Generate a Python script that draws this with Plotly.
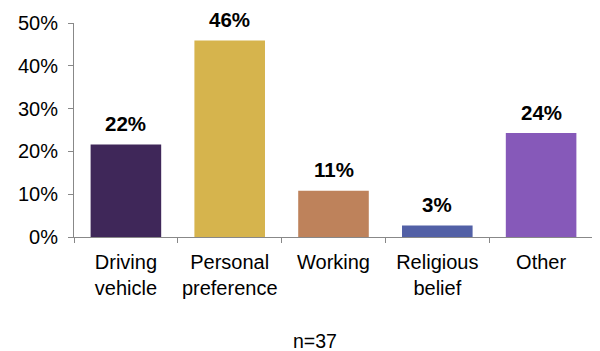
import plotly.graph_objects as go

categories = ["Driving<br>vehicle", "Personal<br>preference", "Working", "Religious<br>belief", "Other"]
values = [0.216, 0.459, 0.108, 0.027, 0.243]
labels = ["22%", "46%", "11%", "3%", "24%"]
colors = ["#3f2759", "#d6b44d", "#be825b", "#5260a6", "#8659b9"]
yticks = [0, 0.1, 0.2, 0.3, 0.4, 0.5]
ytick_labels = ["0%", "10%", "20%", "30%", "40%", "50%"]
note = "n=37"

font = "Liberation Sans, Arial, sans-serif"

fig = go.Figure(go.Bar(
    x=categories, y=values, marker=dict(color=colors, line=dict(width=0)),
    width=0.68, cliponaxis=False,
))

for c, v, t in zip(categories, values, labels):
    fig.add_annotation(
        x=c, y=v, text=t, showarrow=False, yanchor="middle", yshift=21,
        font=dict(family=font, size=20.5, color="#000000", weight="bold"),
    )

# page body has an 8px default margin, so the figure is offset by (8, 8)
fig.update_layout(
    width=593, height=343,
    margin=dict(l=66, r=8, t=15, b=114),
    plot_bgcolor="white", paper_bgcolor="white",
    showlegend=False,
    font=dict(family=font, size=20, color="#000000"),
)
fig.update_yaxes(
    range=[0, 0.5], tickvals=yticks, ticktext=ytick_labels,
    showgrid=False, showline=True, linecolor="#888888", linewidth=1,
    ticks="outside", ticklen=5, tickcolor="#888888",
    tickfont=dict(family=font, size=20), ticklabelstandoff=6,
    zeroline=False, automargin=False,
)
fig.update_xaxes(
    showgrid=False, showline=True, linecolor="#888888", linewidth=1,
    ticks="outside", ticklen=5, tickcolor="#888888", tickson="boundaries",
    tickfont=dict(family=font, size=20), ticklabelstandoff=7, tickangle=0,
    automargin=False,
)
fig.add_annotation(
    text=note, x=0.464, xref="paper", y=-0.488, yref="paper",
    xanchor="center", yanchor="middle", showarrow=False,
    font=dict(family=font, size=19.5),
)

fig.write_html("out.html")
